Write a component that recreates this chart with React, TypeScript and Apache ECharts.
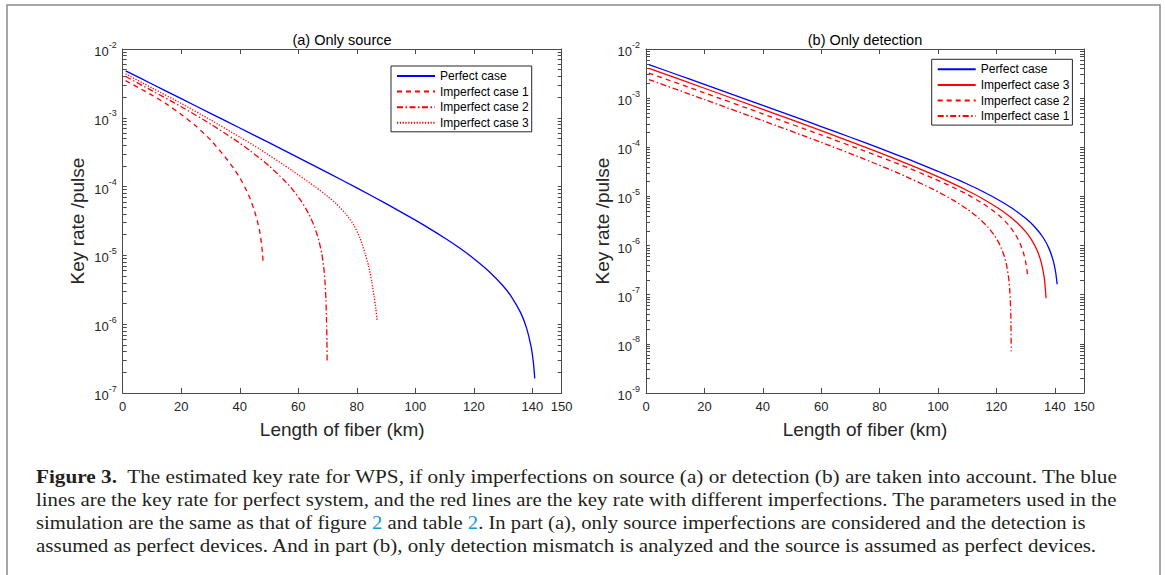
import React, { useEffect, useRef } from "react";
import * as echarts from "echarts";

// ---------- data ----------
const xTickLabels = [0, 20, 40, 60, 80, 100, 120, 140, 150];
const leftDecades = [1e-7, 1e-6, 1e-5, 1e-4, 1e-3, 1e-2];
const rightDecades = [1e-9, 1e-8, 1e-7, 1e-6, 1e-5, 1e-4, 1e-3, 1e-2];
const minorMultipliers = [2, 3, 4, 5, 6, 7, 8, 9];

// Perfect case (same curve in both panels)
const perfectKm = [1, 10, 20, 30, 40, 50, 60, 70, 80, 90, 100, 105, 110, 115, 120, 125, 130, 133, 136, 138, 139.5, 140.3, 140.8];
const perfectRate = [4.82e-3, 3.1e-3, 1.9e-3, 1.16e-3, 7.11e-4, 4.35e-4, 2.64e-4, 1.6e-4, 9.57e-5, 5.65e-5, 3.25e-5, 2.43e-5, 1.79e-5, 1.29e-5, 8.97e-6, 5.94e-6, 3.59e-6, 2.44e-6, 1.46e-6, 8.77e-7, 4.81e-7, 2.83e-7, 1.63e-7];

// (a) Only source
const aCase1Km = [1, 10, 15, 20, 25, 30, 35, 38, 40, 42, 43.5, 45, 46, 46.8, 47.4, 47.8, 48];
const aCase1Rate = [3.47e-3, 2.14e-3, 1.58e-3, 1.12e-3, 7.59e-4, 4.79e-4, 2.69e-4, 1.82e-4, 1.35e-4, 9.33e-5, 6.76e-5, 4.47e-5, 3.16e-5, 2.24e-5, 1.51e-5, 1.02e-5, 7.24e-6];

const aCase2Km = [1, 10, 20, 30, 38, 43.6, 50, 55, 58, 61, 63.5, 65.5, 67, 68, 68.7, 69.15, 69.45, 69.65, 69.78, 69.85];
const aCase2Rate = [3.98e-3, 2.48e-3, 1.45e-3, 8.13e-4, 4.9e-4, 3.31e-4, 2.0e-4, 1.26e-4, 9.12e-5, 6.17e-5, 4.07e-5, 2.63e-5, 1.66e-5, 1.07e-5, 6.76e-6, 3.98e-6, 2.24e-6, 1.12e-6, 5.62e-7, 2.88e-7];

const aCase3Km = [1, 10, 20, 30, 40, 47, 58, 66, 70, 73, 76, 79, 81, 82.8, 84, 85.1, 85.9, 86.5, 86.9];
const aCase3Rate = [4.35e-3, 2.72e-3, 1.62e-3, 9.33e-4, 5.25e-4, 3.47e-4, 1.7e-4, 9.77e-5, 7.24e-5, 5.62e-5, 4.12e-5, 2.75e-5, 1.82e-5, 1.07e-5, 7.08e-6, 4.17e-6, 2.51e-6, 1.66e-6, 1.15e-6];

// (b) Only detection
const bCase3Km = [1, 20, 40, 60, 75, 87, 98.4, 105, 110, 115, 120, 124, 127, 130, 132, 134, 135.3, 136.1, 136.6, 137];
const bCase3Rate = [4.05e-3, 1.59e-3, 5.93e-4, 2.18e-4, 1.01e-4, 5.3e-5, 2.77e-5, 1.84e-5, 1.32e-5, 9.2e-6, 6.08e-6, 4.16e-6, 2.95e-6, 1.92e-6, 1.32e-6, 7.83e-7, 4.66e-7, 2.82e-7, 1.71e-7, 8.47e-8];

const bCase2Km = [1, 20, 40, 60, 75, 87, 98.4, 105, 110, 115, 119, 122, 124.5, 126.5, 128, 129.2, 130, 130.5, 130.8];
const bCase2Rate = [3.24e-3, 1.28e-3, 4.79e-4, 1.78e-4, 8.34e-5, 4.45e-5, 2.33e-5, 1.55e-5, 1.1e-5, 7.4e-6, 5.06e-6, 3.59e-6, 2.49e-6, 1.69e-6, 1.15e-6, 7.36e-7, 4.72e-7, 3.1e-7, 2.16e-7];

const bCase1Km = [1, 20, 40, 60, 75, 87, 98.4, 105, 110, 114, 117, 119.5, 121.2, 122.5, 123.5, 124.2, 124.6, 124.9, 125.0, 125.07];
const bCase1Rate = [2.39e-3, 9.38e-4, 3.48e-4, 1.26e-4, 5.68e-5, 2.88e-5, 1.39e-5, 8.53e-6, 5.51e-6, 3.59e-6, 2.4e-6, 1.55e-6, 1.03e-6, 6.58e-7, 3.94e-7, 2.17e-7, 1.19e-7, 4.74e-8, 2.37e-8, 7.08e-9];

const captionLines = [
  "{b|Figure 3.}  The estimated key rate for WPS, if only imperfections on source (a) or detection (b) are taken into account. The blue",
  "lines are the key rate for perfect system, and the red lines are the key rate with different imperfections. The parameters used in the",
  "simulation are the same as that of figure {l|2} and table {l|2}. In part (a), only source imperfections are considered and the detection is",
  "assumed as perfect devices. And in part (b), only detection mismatch is analyzed and the source is assumed as perfect devices.",
];
const captionStretch = [1.118, 1.096, 1.087, 1.105];

// ---------- styling ----------
const FONT = '"Liberation Sans", Arial, Helvetica, sans-serif';
const SERIF = '"Liberation Serif", "Times New Roman", serif';
const AXIS = "#4a4a4a";
const TXT = "#262626";
const BLUE = "#0000ff";
const RED = "#ff0000";
const DASH = [5, 4];
const DASHDOT = [6, 2.5, 1.5, 2.5];
const DOT = [1.2, 1.6];

function pairs(xs: number[], ys: number[]) {
  return xs.map((x, i) => [x, ys[i]]);
}

function minorTicks(decades: number[]) {
  const out: number[] = [];
  for (let i = 0; i < decades.length - 1; i++) {
    for (const m of minorMultipliers) out.push(m * decades[i]);
  }
  return out;
}

function xAxes(gridIndex: number) {
  const base: any = {
    type: "value",
    gridIndex,
    min: 0,
    max: 150,
    splitLine: { show: false },
    axisLine: { show: true, onZero: false, lineStyle: { color: AXIS, width: 1 } },
    axisTick: { show: true, inside: true, length: 5, customValues: xTickLabels, lineStyle: { color: AXIS, width: 1 } },
  };
  return [
    {
      ...base,
      position: "bottom",
      axisLabel: { show: true, customValues: xTickLabels, fontSize: 13, color: TXT, fontFamily: FONT, margin: 7 },
      name: "Length of fiber (km)",
      nameLocation: "middle",
      nameGap: 27,
      nameTextStyle: { fontSize: 19, color: TXT, fontFamily: FONT },
    },
    { ...base, position: "top", axisLabel: { show: false } },
  ];
}

function yAxes(gridIndex: number, decades: number[], nameGap: number) {
  const ticks = [...decades, ...minorTicks(decades)];
  const base: any = {
    type: "log",
    logBase: 10,
    gridIndex,
    min: decades[0],
    max: decades[decades.length - 1],
    splitLine: { show: false },
    minorTick: { show: false },
    axisLine: { show: true, onZero: false, lineStyle: { color: AXIS, width: 1 } },
    axisTick: { show: true, inside: true, length: 4, customValues: ticks, lineStyle: { color: AXIS, width: 1 } },
  };
  return [
    {
      ...base,
      position: "left",
      axisLabel: {
        show: true,
        customValues: decades,
        margin: 6,
        fontFamily: FONT,
        fontSize: 13,
        color: TXT,
        formatter: (v: number) => "{n|10}{s|" + Math.round(Math.log10(v)) + "}",
        rich: {
          n: { fontSize: 13, fontFamily: FONT, color: TXT, verticalAlign: "bottom", lineHeight: 18 },
          s: { fontSize: 9, fontFamily: FONT, color: TXT, verticalAlign: "top", lineHeight: 18 },
        },
      },
      name: "Key rate /pulse",
      nameLocation: "middle",
      nameGap,
      nameTextStyle: { fontSize: 19, color: TXT, fontFamily: FONT },
    },
    { ...base, position: "right", axisLabel: { show: false } },
  ];
}

function line(name: string, idx: number, xs: number[], ys: number[], color: string, type: any) {
  return {
    type: "line",
    name,
    xAxisIndex: idx,
    yAxisIndex: idx,
    data: pairs(xs, ys),
    showSymbol: false,
    symbol: "none",
    smooth: 0.2,
    lineStyle: { color, width: 1.3, type },
    itemStyle: { color },
    z: 3,
  };
}

function legend(left: number, top: number, names: string[]) {
  return {
    orient: "vertical",
    left,
    top,
    padding: [4, 3, 3, 5],
    itemWidth: 38,
    itemHeight: 12,
    itemGap: 3.6,
    borderColor: "#262626",
    borderWidth: 1,
    backgroundColor: "#ffffff",
    selectedMode: false,
    data: names,
    itemStyle: { opacity: 0, borderWidth: 0 },
    formatter: (n: string) => n.split("|")[1],
    textStyle: { fontSize: 12, fontFamily: FONT, color: "#000" },
  };
}

export default function App() {
  const ref = useRef<HTMLDivElement>(null);

  useEffect(() => {
    if (!ref.current) return;
    const chart = echarts.init(ref.current, null, { renderer: "svg" });

    const xa = xAxes(0);
    const xb = xAxes(1);
    const ya = yAxes(0, leftDecades, 36);
    const yb = yAxes(1, rightDecades, 34);

    const option: any = {
      animation: false,
      backgroundColor: "#ffffff",
      grid: [
        { left: 122.7, top: 49, width: 439, height: 344 },
        { left: 646, top: 49, width: 438, height: 344 },
      ],
      xAxis: [xa[0], xa[1], xb[0], xb[1]],
      yAxis: [ya[0], ya[1], yb[0], yb[1]],
      legend: [
        legend(391, 66, ["a|Perfect case", "a|Imperfect case 1", "a|Imperfect case 2", "a|Imperfect case 3"]),
        legend(931.7, 59.3, ["b|Perfect case", "b|Imperfect case 3", "b|Imperfect case 2", "b|Imperfect case 1"]),
      ],
      series: [
        line("a|Perfect case", 0, perfectKm, perfectRate, BLUE, "solid"),
        line("a|Imperfect case 1", 0, aCase1Km, aCase1Rate, RED, DASH),
        line("a|Imperfect case 2", 0, aCase2Km, aCase2Rate, RED, DASHDOT),
        line("a|Imperfect case 3", 0, aCase3Km, aCase3Rate, RED, DOT),
        line("b|Perfect case", 2, perfectKm, perfectRate, BLUE, "solid"),
        line("b|Imperfect case 3", 2, bCase3Km, bCase3Rate, RED, "solid"),
        line("b|Imperfect case 2", 2, bCase2Km, bCase2Rate, RED, DASH),
        line("b|Imperfect case 1", 2, bCase1Km, bCase1Rate, RED, DASHDOT),
      ],
      graphic: [
        {
          type: "polyline",
          shape: { points: [[7, 600], [7, 5], [1160, 5], [1160, 600]] },
          style: { stroke: "#8a8a8a", lineWidth: 1.5, fill: "none" },
          silent: true,
        },
        {
          type: "text",
          x: 342,
          y: 40,
          style: { text: "(a) Only source", fontSize: 14.5, fontFamily: FONT, fill: "#000", align: "center", verticalAlign: "middle" },
        },
        {
          type: "text",
          x: 865,
          y: 40,
          style: { text: "(b) Only detection", fontSize: 14.5, fontFamily: FONT, fill: "#000", align: "center", verticalAlign: "middle" },
        },
        ...captionLines.map((t, i) => ({
          type: "text",
          x: 36,
          y: 476 + i * 23,
          scaleX: captionStretch[i],
          style: {
            text: t,
            fontSize: 19,
            fontFamily: SERIF,
            fill: "#231f20",
            align: "left",
            verticalAlign: "middle",
            rich: {
              b: { fontWeight: "bold", fontSize: 19, fontFamily: SERIF, fill: "#231f20" },
              l: { fontSize: 19, fontFamily: SERIF, fill: "#2196d3" },
            },
          },
        })),
      ],
    };

    chart.setOption(option);
    return () => chart.dispose();
  }, []);

  return (
    <div
      ref={ref}
      style={{ position: "fixed", left: 0, top: 0, width: 1165, height: 575, background: "#fff" }}
    />
  );
}
